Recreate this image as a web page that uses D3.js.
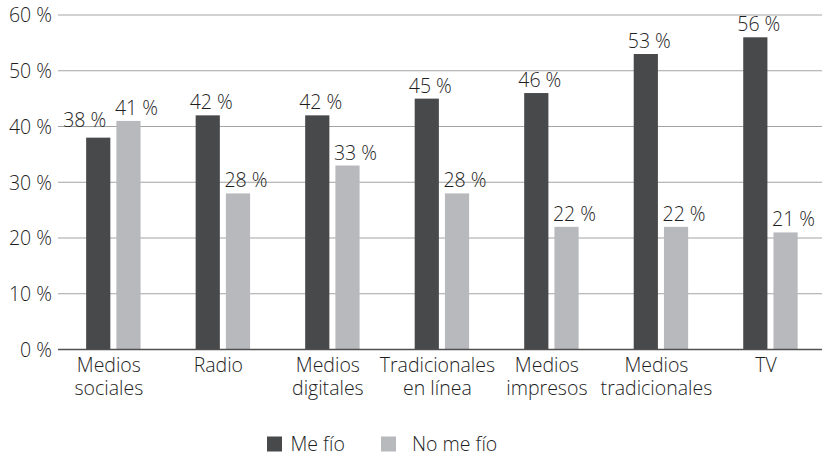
<!DOCTYPE html>
<html>
<head>
<meta charset="utf-8">
<script src="https://cdn.jsdelivr.net/npm/d3@7"></script>
<style>
  body { margin: 0; background: #fff; }
  svg text { font-family: "Open Sans", sans-serif; font-weight: 300; fill: #1e1e1e; font-size: 19.5px; }
</style>
</head>
<body>
<div id="chart"></div>
<script>
// region Data
const categories = [
    ['Medios', 'sociales'],
    ['Radio'],
    ['Medios', 'digitales'],
    ['Tradicionales', 'en línea'],
    ['Medios', 'impresos'],
    ['Medios', 'tradicionales'],
    ['TV'],
];
const series = ['Me fío', 'No me fío'];
const meFio = [38, 42, 42, 45, 46, 53, 56];
const noMeFio = [41, 28, 33, 28, 22, 22, 21];
const yTicks = [0, 10, 20, 30, 40, 50, 60];
// endregion

let dark = '#48494b',
    light = '#b8b9bc'

let w = 823,
    h = 456

let svg = d3.select('#chart')
    .append('svg')
    .attr('width', w)
    .attr('height', h)

let df = categories.map((c, i) => ({
    id: i,
    label: c,
    values: [meFio[i], noMeFio[i]]
}))

const x0 = d3.scaleBand()
    .domain(df.map(d => d.id))
    .range([58.6, 825.2])
    .paddingInner(0.503)
    .paddingOuter(0.2515)

const x1 = d3.scaleBand()
    .domain(series)
    .range([0, x0.bandwidth()])
    .paddingInner(0.2)

const y = d3.scaleLinear()
    .domain([0, 60])
    .range([349.5, 15])

const color = d3.scaleOrdinal().domain(series).range([dark, light])

// gridlines
svg.append('g')
    .selectAll('line')
    .data(yTicks.filter(t => t > 0)).enter()
    .append('line')
    .attr('x1', 58)
    .attr('x2', 822)
    .attr('y1', d => y(d))
    .attr('y2', d => y(d))
    .attr('stroke', '#a3a3a3')
    .attr('stroke-width', 1.2)

// y labels
svg.append('g')
    .selectAll('text')
    .data(yTicks).enter()
    .append('text')
    .attr('x', 52)
    .attr('y', d => y(d))
    .attr('dy', '0.38em')
    .attr('text-anchor', 'end')
    .text(d => `${d} %`)

// bars
let groups = svg.append('g')
    .selectAll('g')
    .data(df).enter()
    .append('g')
    .attr('transform', d => `translate(${x0(d.id)},0)`)

let pairs = d => series.map((s, k) => ({key: s, value: d.values[k], other: d.values[1 - k]}))

groups.selectAll('rect')
    .data(pairs)
    .enter()
    .append('rect')
    .attr('x', d => x1(d.key))
    .attr('y', d => y(d.value))
    .attr('width', x1.bandwidth())
    .attr('height', d => y(0) - y(d.value))
    .attr('fill', d => color(d.key))

// value labels, the lower dark label steps aside when it would clash with its neighbour
let clash = d => d.key === series[0] && d.value < d.other && y(d.value) - y(d.other) < 20
groups.selectAll('text')
    .data(pairs)
    .enter()
    .append('text')
    .attr('x', d => x1(d.key) + x1.bandwidth() / 2 + (d.key === series[0] ? 3.5 : 8) - (clash(d) ? 17 : 0))
    .attr('y', d => y(d.value) - 6 - (clash(d) ? 5 : 0))
    .attr('text-anchor', 'middle')
    .text(d => `${d.value} %`)

// baseline
svg.append('line')
    .attr('x1', 58)
    .attr('x2', 822)
    .attr('y1', y(0))
    .attr('y2', y(0))
    .attr('stroke', '#505050')
    .attr('stroke-width', 1.5)

// category labels, one text per line
svg.append('g')
    .selectAll('text')
    .data(df.flatMap(d => d.label.map((l, i) => ({l: l, row: i, cx: x0(d.id) + x0.bandwidth() / 2 - 4.5}))))
    .enter()
    .append('text')
    .attr('text-anchor', 'middle')
    .attr('x', d => d.cx)
    .attr('y', d => 371.5 + d.row * 23.5)
    .text(d => d.l)

// legend
const legendX = [267, 381]
let legend = svg.append('g')
    .selectAll('g')
    .data(series).enter()
    .append('g')
    .attr('transform', (d, i) => `translate(${legendX[i]},436.5)`)

legend.append('rect')
    .attr('width', 15)
    .attr('height', 15)
    .attr('fill', d => color(d))

legend.append('text')
    .attr('x', (d, i) => i === 0 ? 23.5 : 31)
    .attr('y', 14.3)
    .text(d => d)
</script>
</body>
</html>
